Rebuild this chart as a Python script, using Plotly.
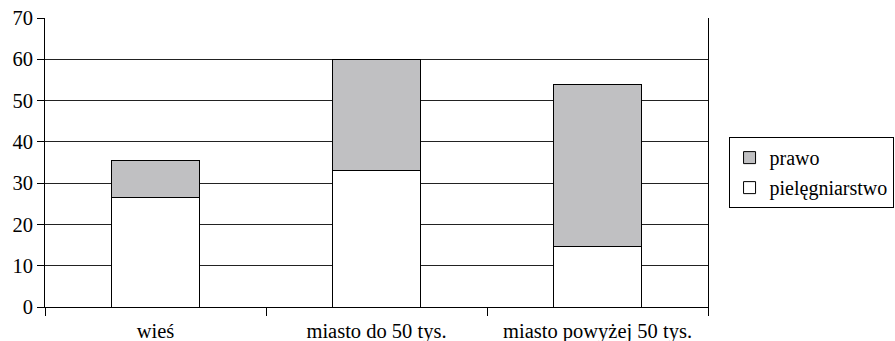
import plotly.graph_objects as go

categories = ["wieś", "miasto do 50 tys.", "miasto powyżej 50 tys."]
pielegniarstwo = [26.6, 33.0, 14.6]
prawo = [8.9, 27.0, 39.4]
y_ticks = [0, 10, 20, 30, 40, 50, 60, 70]

serif = "Liberation Serif, serif"
tick_font = dict(family=serif, size=20.5, color="black")
legend_font = dict(family=serif, size=20, color="black")
outline = dict(color="black", width=1)

fig = go.Figure()
fig.add_trace(go.Bar(x=categories, y=pielegniarstwo, name="pielęgniarstwo",
                     legendgroup="a", legendrank=2, marker=dict(color="white", line=outline)))
fig.add_trace(go.Bar(x=categories, y=prawo, name="prawo",
                     legendgroup="b", legendrank=1, marker=dict(color="#c0c0c2", line=outline)))

fig.update_layout(
    template="none",
    width=895, height=341,
    margin=dict(l=45, r=187, t=18, b=34, autoexpand=False),
    barmode="stack", bargap=0.605,
    plot_bgcolor="white", paper_bgcolor="white",
    font=tick_font,
    legend=dict(traceorder="grouped", tracegroupgap=1,
                x=1.031, xanchor="left", y=0.465, yanchor="middle",
                bordercolor="black", borderwidth=1, bgcolor="white",
                font=legend_font, itemwidth=30),
    xaxis=dict(showline=True, linecolor="black", linewidth=1, tickfont=tick_font,
               ticks="outside", ticklen=8, tickcolor="black", tickson="boundaries",
               ticklabelstandoff=5, showgrid=False),
    yaxis=dict(range=[0, 70], tickvals=y_ticks, showline=True, linecolor="black", linewidth=1,
               tickfont=tick_font, mirror=True, ticks="outside", ticklen=7, tickcolor="black",
               showgrid=True, gridcolor="#222222", gridwidth=1, zeroline=False),
)

fig.write_html("out.html")
